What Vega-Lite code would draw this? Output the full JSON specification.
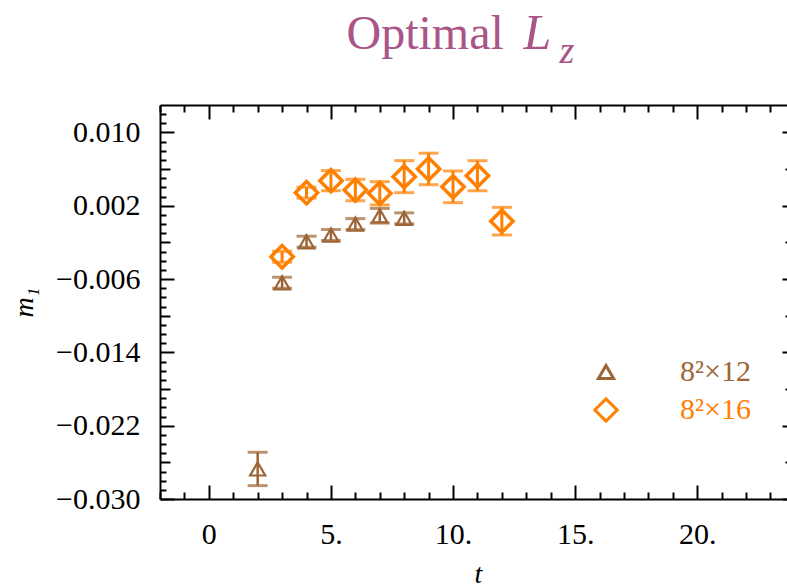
{
  "$schema": "https://vega.github.io/schema/vega-lite/v6.json",
  "width": 627,
  "height": 394,
  "autosize": "none",
  "padding": {"left": 160, "top": 105, "right": 0, "bottom": 85},
  "config": {
    "view": {"stroke": null},
    "font": "Liberation Serif",
    "legend": {"labelFont": "Liberation Serif", "labelFontSize": 30},
    "axis": {
      "grid": false,
      "domainColor": "black",
      "tickColor": "black",
      "labelColor": "black",
      "labelFont": "Liberation Serif",
      "labelFontSize": 30,
      "domainWidth": 2,
      "tickWidth": 2,
      "titleFont": "Liberation Serif",
      "titleColor": "black",
      "titleFontWeight": "normal"
    }
  },
  "data": {
    "values": [
      {"t": 2, "m": -0.02672, "lo": -0.02854, "hi": -0.0249, "series": "8²×12"},
      {"t": 3, "m": -0.0064, "lo": -0.007, "hi": -0.0058, "series": "8²×12"},
      {"t": 4, "m": -0.00192, "lo": -0.00252, "hi": -0.00132, "series": "8²×12"},
      {"t": 5, "m": -0.00119, "lo": -0.00179, "hi": -0.00059, "series": "8²×12"},
      {"t": 6, "m": 0.0, "lo": -0.0006, "hi": 0.0006, "series": "8²×12"},
      {"t": 7, "m": 0.00091, "lo": 0.00011, "hi": 0.00171, "series": "8²×12"},
      {"t": 8, "m": 0.00063, "lo": 0.00003, "hi": 0.00123, "series": "8²×12"},
      {"t": 3, "m": -0.00356, "lo": -0.00416, "hi": -0.00296, "series": "8²×16"},
      {"t": 4, "m": 0.00343, "lo": 0.00283, "hi": 0.00403, "series": "8²×16"},
      {"t": 5, "m": 0.00474, "lo": 0.00364, "hi": 0.00584, "series": "8²×16"},
      {"t": 6, "m": 0.00372, "lo": 0.00255, "hi": 0.00489, "series": "8²×16"},
      {"t": 7, "m": 0.00336, "lo": 0.00209, "hi": 0.00463, "series": "8²×16"},
      {"t": 8, "m": 0.00518, "lo": 0.00343, "hi": 0.00693, "series": "8²×16"},
      {"t": 9, "m": 0.00602, "lo": 0.0043, "hi": 0.00774, "series": "8²×16"},
      {"t": 10, "m": 0.00407, "lo": 0.00234, "hi": 0.0058, "series": "8²×16"},
      {"t": 11, "m": 0.00528, "lo": 0.00364, "hi": 0.00692, "series": "8²×16"},
      {"t": 12, "m": 0.00032, "lo": -0.00119, "hi": 0.00183, "series": "8²×16"}
    ]
  },
  "resolve": {"axis": {"x": "independent", "y": "independent"}},
  "layer": [
    {
      "mark": {"type": "rule"},
      "encoding": {
        "x": {
          "field": "t", "type": "quantitative",
          "scale": {"domain": [-2, 23.676], "nice": false, "zero": false},
          "axis": {
            "orient": "bottom", "ticks": false, "tickSize": 0, "domain": true,
            "values": [0, 5, 10, 15, 20],
            "labelExpr": "datum.value == 0 ? '0' : datum.value + '.'",
            "labelPadding": 20,
            "title": "t", "titleFontStyle": "italic", "titleFontSize": 28,
            "titlePadding": 11, "titleX": 318
          }
        },
        "y": {
          "field": "lo", "type": "quantitative",
          "scale": {"domain": [-0.03, 0.013], "nice": false, "zero": false},
          "axis": {
            "orient": "left", "ticks": false, "tickSize": 0, "domain": true,
            "values": [-0.03, -0.022, -0.014, -0.006, 0.002, 0.01],
            "labelExpr": "replace(format(datum.value, '.3f'), '-', '\u2212')",
            "labelPadding": 20,
            "title": "m\u2081", "titleFontStyle": "italic", "titleFontSize": 28,
            "titlePadding": 17
          }
        },
        "y2": {"field": "hi"},
        "color": {"condition": {"test": "datum.series == '8²×16'", "value": "#ff8000"}, "value": "#9d6535"},
        "strokeWidth": {"condition": {"test": "datum.series == '8²×16'", "value": 3}, "value": 2.5}
      }
    },
    {
      "mark": {"type": "tick", "orient": "horizontal", "size": 20, "thickness": 3},
      "encoding": {
        "x": {
          "field": "t", "type": "quantitative",
          "axis": {
            "orient": "bottom", "domain": false, "labels": false, "title": null,
            "values": [-2, -1, 0, 1, 2, 3, 4, 5, 6, 7, 8, 9, 10, 11, 12, 13, 14, 15, 16, 17, 18, 19, 20, 21, 22, 23],
            "tickSize": {"condition": {"test": "datum.value % 5 == 0", "value": -14}, "value": -7}
          }
        },
        "y": {
          "field": "lo", "type": "quantitative",
          "axis": {
            "orient": "left", "domain": false, "labels": false, "title": null,
            "values": [-0.030, -0.029, -0.028, -0.027, -0.026, -0.025, -0.024, -0.023, -0.022, -0.021, -0.020, -0.019, -0.018, -0.017, -0.016, -0.015, -0.014, -0.013, -0.012, -0.011, -0.010, -0.009, -0.008, -0.007, -0.006, -0.005, -0.004, -0.003, -0.002, -0.001, 0.000, 0.001, 0.002, 0.003, 0.004, 0.005, 0.006, 0.007, 0.008, 0.009, 0.010, 0.011, 0.012],
            "tickSize": {
              "condition": [
                {"test": "(round(datum.value*1000)+30)%8 == 0", "value": -14},
                {"test": "(round(datum.value*1000)+30)%8 == 4", "value": -10}
              ],
              "value": -6
            }
          }
        },
        "color": {"condition": {"test": "datum.series == '8²×16'", "value": "#ff8000"}, "value": "#9d6535"}
      }
    },
    {
      "mark": {"type": "tick", "orient": "horizontal", "size": 20, "thickness": 3},
      "encoding": {
        "x": {
          "field": "t", "type": "quantitative",
          "axis": {
            "orient": "top", "domain": true, "labels": false,
            "values": [-2, -1, 0, 1, 2, 3, 4, 5, 6, 7, 8, 9, 10, 11, 12, 13, 14, 15, 16, 17, 18, 19, 20, 21, 22, 23],
            "tickSize": {"condition": {"test": "datum.value % 5 == 0", "value": -14}, "value": -7},
            "title": "Optimal", "titleFontSize": 48, "titleColor": "#aa5588",
            "titleX": 186, "titleY": -57, "titleAlign": "left", "titleBaseline": "alphabetic", "titleAngle": 0
          }
        },
        "y": {
          "field": "hi", "type": "quantitative",
          "axis": {
            "orient": "right", "domain": false, "labels": false, "title": null,
            "values": [-0.030, -0.026, -0.022, -0.018, -0.014, -0.010, -0.006, -0.002, 0.002, 0.006, 0.010],
            "tickSize": {"condition": {"test": "(round(datum.value*1000)+30)%8 == 0", "value": -5}, "value": -2}
          }
        },
        "color": {"condition": {"test": "datum.series == '8²×16'", "value": "#ff8000"}, "value": "#9d6535"}
      }
    },
    {
      "mark": {"type": "point", "filled": false, "opacity": 1},
      "encoding": {
        "x": {
          "field": "t", "type": "quantitative",
          "axis": {
            "orient": "top", "domain": false, "ticks": false, "labels": false,
            "title": "L", "titleFontSize": 50, "titleFontStyle": "italic", "titleColor": "#aa5588",
            "titleX": 363, "titleY": -57, "titleAlign": "left", "titleBaseline": "alphabetic", "titleAngle": 0
          }
        },
        "y": {
          "field": "m", "type": "quantitative",
          "axis": {
            "orient": "right", "domain": false, "ticks": false, "labels": false,
            "title": "z", "titleFontSize": 38, "titleFontStyle": "italic", "titleColor": "#aa5588",
            "titleX": -228, "titleY": -43, "titleAlign": "left", "titleBaseline": "alphabetic", "titleAngle": 0
          }
        },
        "color": {
          "field": "series", "type": "nominal",
          "scale": {"domain": ["8²×12", "8²×16"], "range": ["#9d6535", "#ff8000"]},
          "legend": {
            "orient": "none", "legendX": 431, "legendY": 252, "title": null, "padding": 0,
            "labelFont": "Liberation Serif", "labelFontSize": 30, "labelOffset": 59, "rowPadding": 5,
            "symbolStrokeWidth": 3,
            "labelColor": {"expr": "datum.value === '8²×12' ? '#9d6535' : '#ff8000'"}
          }
        },
        "shape": {
          "field": "series", "type": "nominal",
          "scale": {"domain": ["8²×12", "8²×16"], "range": ["triangle-up", "diamond"]}
        },
        "size": {
          "field": "series", "type": "nominal",
          "scale": {"domain": ["8²×12", "8²×16"], "range": [230, 500]}
        },
        "strokeWidth": {"condition": {"test": "datum.series == '8²×16'", "value": 3.5}, "value": 2.2}
      }
    }
  ]
}
